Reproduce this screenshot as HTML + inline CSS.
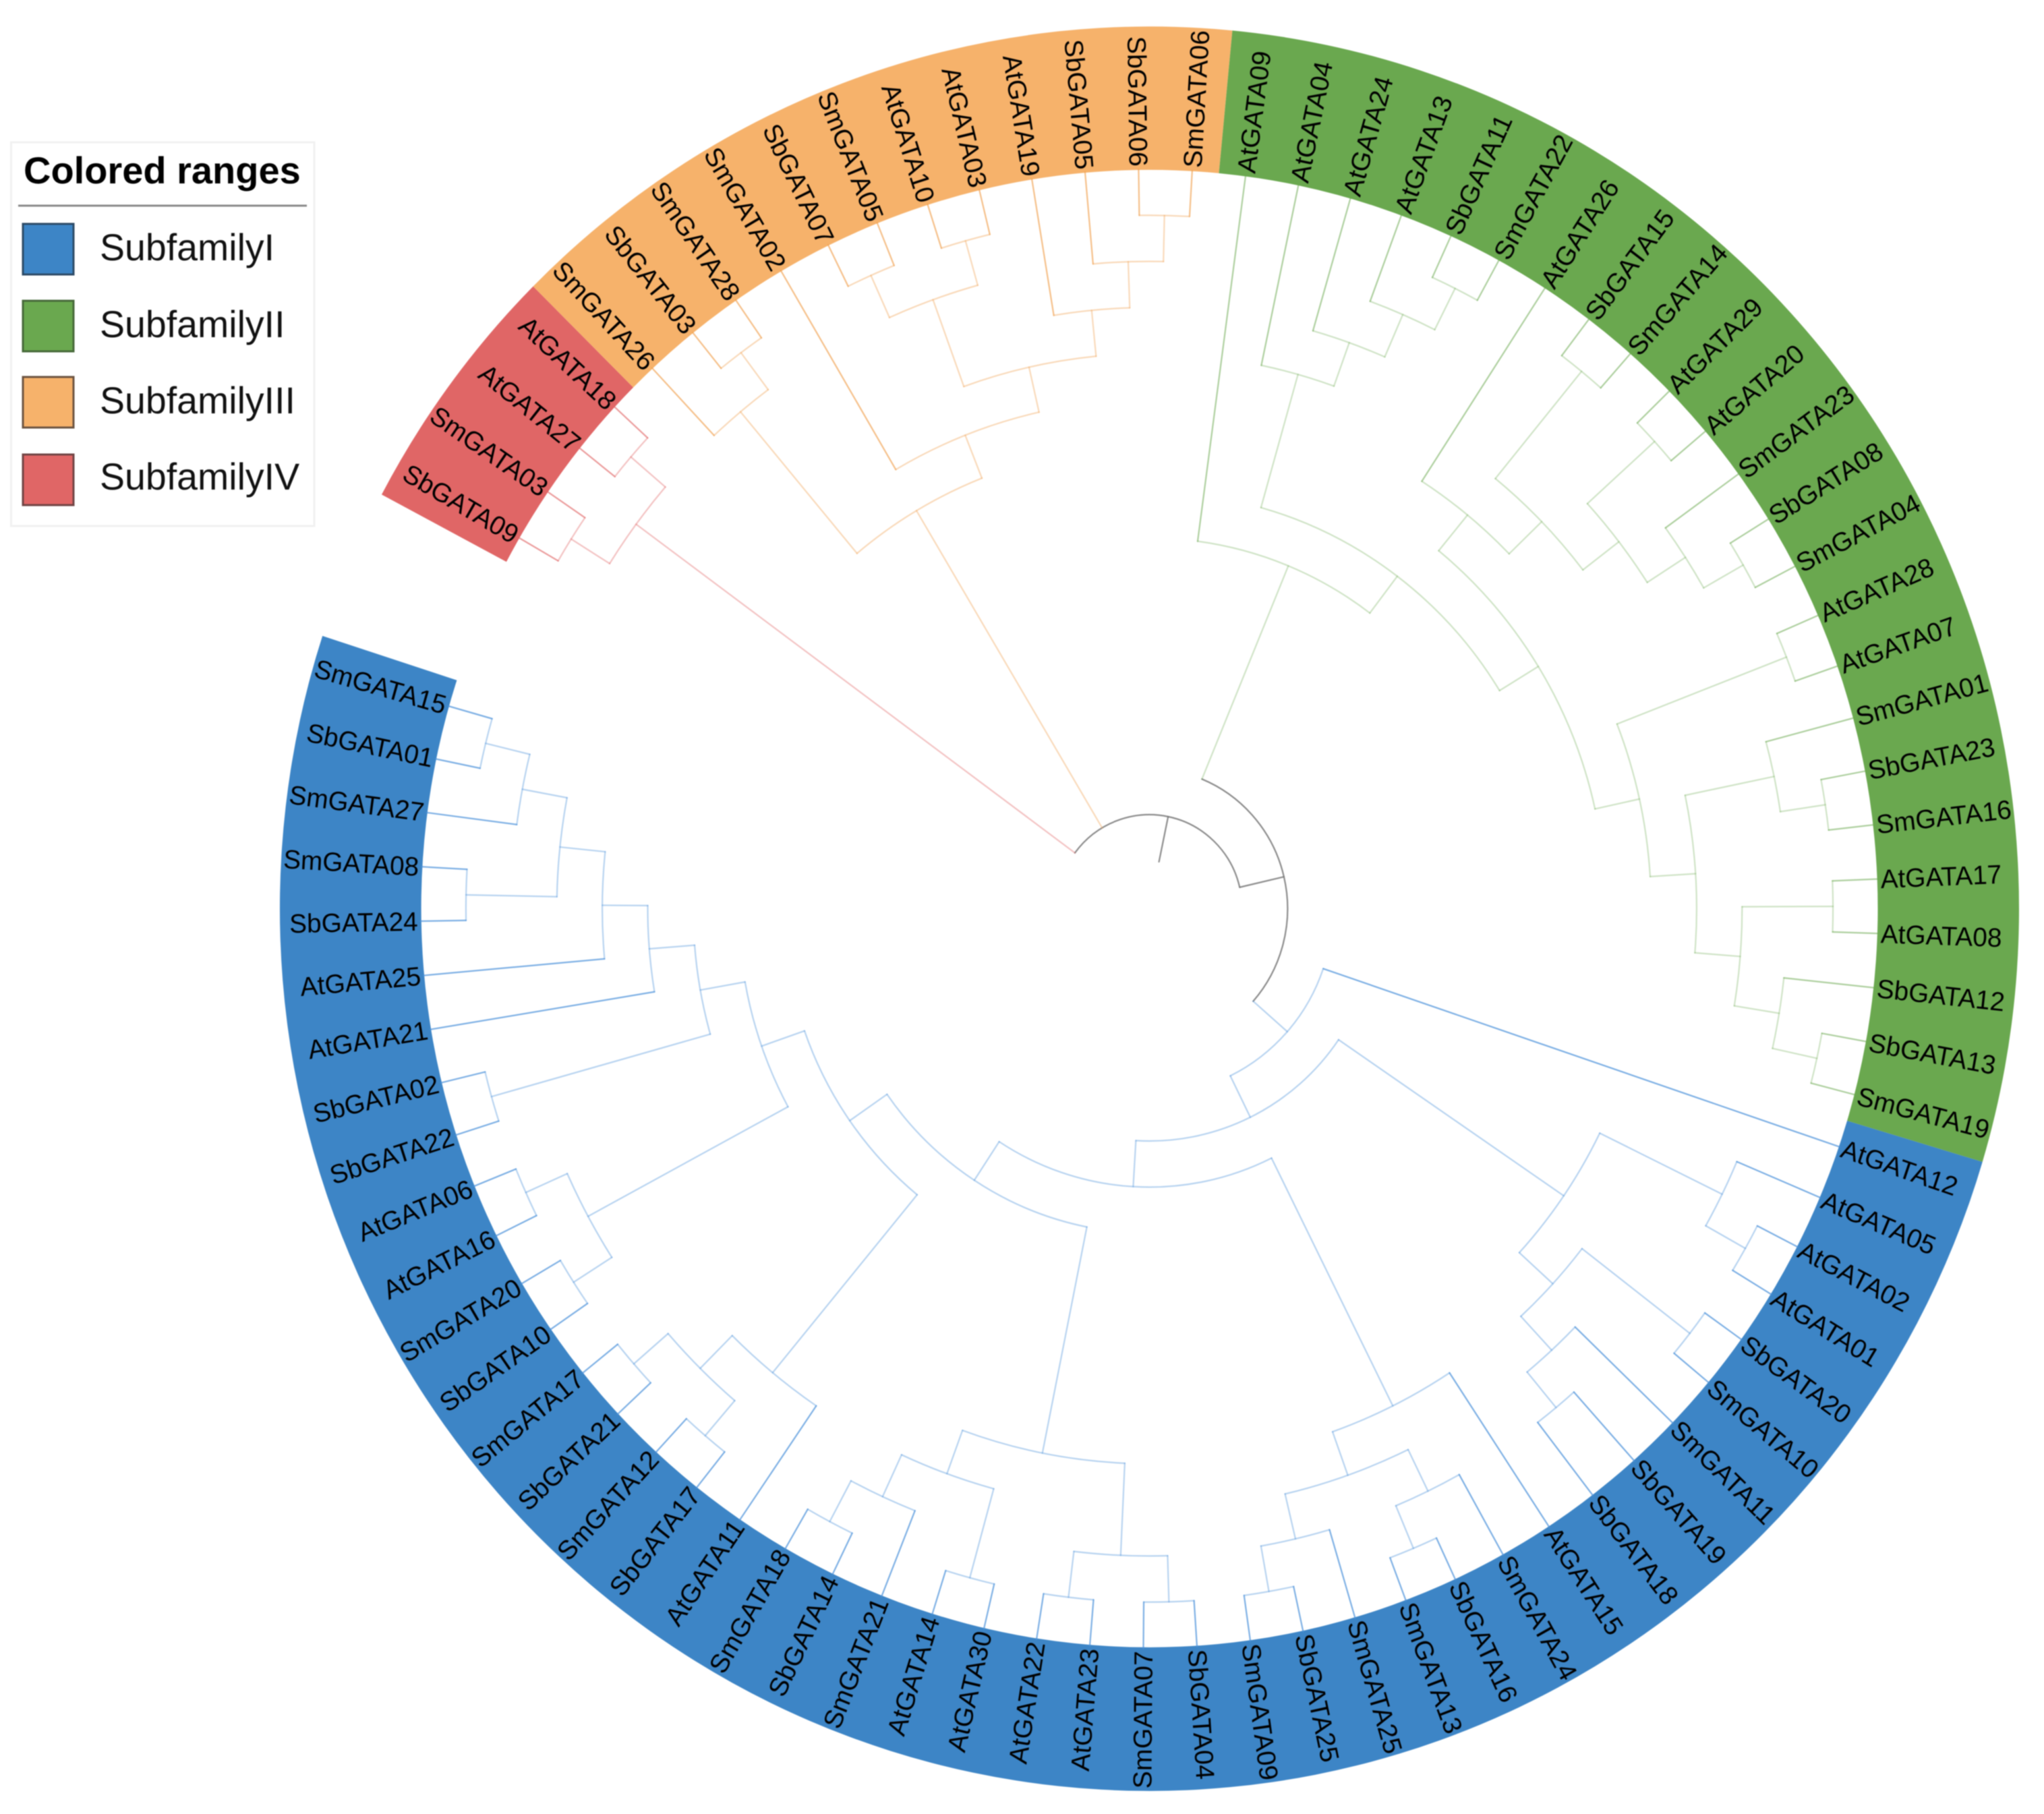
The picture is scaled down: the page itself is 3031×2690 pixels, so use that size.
<!DOCTYPE html>
<html lang="en">
<head>
<meta charset="utf-8">
<title>GATA family circular phylogenetic tree</title>
<style>
  html, body { margin: 0; padding: 0; background: #fff; }
  body { width: 3031px; height: 2690px; overflow: hidden; }
  svg { display: block; font-family: "Liberation Sans", Arial, sans-serif; filter: blur(0.8px); }
  .leaf-text { font-size: 38.8px; fill: #000; }
  .legend-title { font-size: 56px; font-weight: bold; fill: #000; }
  .legend-text { font-size: 55.5px; fill: #111; }
</style>
</head>
<body>
<svg id="chart" xmlns="http://www.w3.org/2000/svg" width="3031" height="2690" viewBox="0 0 3031 2690">
  <rect x="0" y="0" width="3031" height="2690" fill="#ffffff"/>
  <g id="plot" transform="translate(1704.5,1347.5) scale(1,1.0145)">
    <g id="ranges"></g>
    <g id="branches" fill="none" stroke-width="2.2" stroke-linejoin="round" stroke-linecap="round"></g>
    <g id="labels"></g>
  </g>
  <g>
    <rect x="16.5" y="211" width="449.5" height="569" fill="#ffffff" stroke="#f1f1f1" stroke-width="3"/>
    <text class="legend-title" x="35" y="272">Colored ranges</text>
    <line x1="27" y1="305" x2="455" y2="305" stroke="#888888" stroke-width="3"/>
    <g>
      <rect x="34" y="332" width="75" height="75" fill="#3d85c6" stroke="#2c4a66" stroke-width="3"/>
      <text class="legend-text" x="148" y="386">SubfamilyI</text>
    </g>
    <g>
      <rect x="34" y="446" width="75" height="75" fill="#6aa84f" stroke="#47693a" stroke-width="3"/>
      <text class="legend-text" x="148" y="500">SubfamilyII</text>
    </g>
    <g>
      <rect x="34" y="559" width="75" height="75" fill="#f6b26b" stroke="#6b5340" stroke-width="3"/>
      <text class="legend-text" x="148" y="613">SubfamilyIII</text>
    </g>
    <g>
      <rect x="34" y="674" width="75" height="75" fill="#e06666" stroke="#704444" stroke-width="3"/>
      <text class="legend-text" x="148" y="726">SubfamilyIV</text>
    </g>
  </g>
</svg>
<script>
// Tree data: each internal node is [level, child, child, ...]; a leaf is its gene name.
// Level is the node's rank counted back from the tips.
const cladeIV = [2, [1, 'SbGATA09', 'SmGATA03'], [1, 'AtGATA27', 'AtGATA18']];

const cladeIII = [6,
  [2, 'SmGATA26', [1, 'SbGATA03', 'SmGATA28']],
  [5, 'SmGATA02',
    [4,
      [2, [1, 'SbGATA07', 'SmGATA05'], [1, 'AtGATA10', 'AtGATA03']],
      [3, 'AtGATA19', [2, 'SbGATA05', [1, 'SbGATA06', 'SmGATA06']]]
    ]
  ]
];

const cladeII = [8, 'AtGATA09',
  [7,
    [4, 'AtGATA04', [3, 'AtGATA24', [2, 'AtGATA13', [1, 'SbGATA11', 'SmGATA22']]]],
    [6,
      [5, 'AtGATA26',
        [4,
          [1, 'SbGATA15', 'SmGATA14'],
          [3, [1, 'AtGATA29', 'AtGATA20'], [2, 'SmGATA23', [1, 'SbGATA08', 'SmGATA04']]]
        ]
      ],
      [5,
        [1, 'AtGATA28', 'AtGATA07'],
        [4,
          [2, 'SmGATA01', [1, 'SbGATA23', 'SmGATA16']],
          [3, [1, 'AtGATA17', 'AtGATA08'], [2, 'SbGATA12', [1, 'SbGATA13', 'SmGATA19']]]
        ]
      ]
    ]
  ]
];

const cladeI = [12, 'AtGATA12',
  [11,
    [5,
      [2, 'AtGATA05', [1, 'AtGATA02', 'AtGATA01']],
      [4, [1, 'SbGATA20', 'SmGATA10'], [3, 'SmGATA11', [2, 'SbGATA19', 'SbGATA18']]]
    ],
    [10,
      [4, 'AtGATA15',
        [3,
          [2, 'SmGATA24', [1, 'SbGATA16', 'SmGATA13']],
          [2, 'SmGATA25', [1, 'SbGATA25', 'SmGATA09']]
        ]
      ],
      [9,
        [4,
          [2, [1, 'SbGATA04', 'SmGATA07'], [1, 'AtGATA23', 'AtGATA22']],
          [3, [1, 'AtGATA30', 'AtGATA14'], [2, 'SmGATA21', [1, 'SbGATA14', 'SmGATA18']]]
        ],
        [8,
          [3, 'AtGATA11', [2, [1, 'SbGATA17', 'SmGATA12'], [1, 'SbGATA21', 'SmGATA17']]],
          [7,
            [2, [1, 'SbGATA10', 'SmGATA20'], [1, 'AtGATA16', 'AtGATA06']],
            [6,
              [1, 'SbGATA22', 'SbGATA02'],
              [5, 'AtGATA21',
                [4, 'AtGATA25',
                  [3, [1, 'SbGATA24', 'SmGATA08'], [2, 'SmGATA27', [1, 'SbGATA01', 'SmGATA15']]]
                ]
              ]
            ]
          ]
        ]
      ]
    ]
  ]
];

const rootLevels = [15, 14, 13];
const subfamilyOrder = ['SubfamilyIV', 'SubfamilyIII', 'SubfamilyII', 'SubfamilyI'];
const subfamilyClades = [cladeIV, cladeIII, cladeII, cladeI];

// Presentation settings, kept apart from the data above.
const palette = { SubfamilyI: '#3d85c6', SubfamilyII: '#6aa84f', SubfamilyIII: '#f6b26b', SubfamilyIV: '#e06666', root: '#777777' };
const branchPalette = { SubfamilyI: '#4a90d9', SubfamilyII: '#6aa84f', SubfamilyIII: '#f0a050', SubfamilyIV: '#e06666' };
const leafOpacity = { SubfamilyI: 0.72, SubfamilyII: 0.55, SubfamilyIII: 0.68, SubfamilyIV: 0.65 };
const innerOpacity = { SubfamilyI: 0.4, SubfamilyII: 0.32, SubfamilyIII: 0.4, SubfamilyIV: 0.4 };
const SVG_NS = 'http://www.w3.org/2000/svg';
const START_ANGLE = 208;
const LEAF_STEP = 4.217;
const RING_OUTER = 1289.5;
const RING_INNER = 1080;
const LABEL_RADIUS = 1085;

// Axis functions.
function radiusScale(level) { return 1081 - 67.4 * level; }
function angleScale(slot) { return START_ANGLE + LEAF_STEP * slot; }
function polar(radius, angle) {
  const t = angle * Math.PI / 180;
  return [radius * Math.cos(t), radius * Math.sin(t)];
}
function fmt(v) { return v.toFixed(2); }

const rangesLayer = document.getElementById('ranges');
const branchLayer = document.getElementById('branches');
const labelLayer = document.getElementById('labels');

let nextSlot = 0;

function layout(node, family) {
  if (typeof node === 'string') {
    const slot = nextSlot;
    nextSlot += 1;
    return { name: node, level: 0, angle: angleScale(slot + 0.5), family: family, kids: [] };
  }
  const kids = node.slice(1).map(function (child) { return layout(child, family); });
  const angle = (kids[0].angle + kids[kids.length - 1].angle) / 2;
  return { level: node[0], angle: angle, family: family, kids: kids };
}

function drawRadial(angle, levelFrom, levelTo, color, opacity) {
  const a = polar(radiusScale(levelFrom), angle);
  const b = polar(radiusScale(levelTo), angle);
  const el = document.createElementNS(SVG_NS, 'line');
  
  
  el.setAttribute('x1', fmt(a[0]));
  el.setAttribute('y1', fmt(a[1]));
  el.setAttribute('x2', fmt(b[0]));
  el.setAttribute('y2', fmt(b[1]));
  el.setAttribute('stroke', color);
  el.setAttribute('stroke-opacity', opacity);
  branchLayer.appendChild(el);
}

function drawArc(level, angleFrom, angleTo, color, opacity) {
  const r = radiusScale(level);
  const a = polar(r, angleFrom);
  const b = polar(r, angleTo);
  const large = angleTo - angleFrom > 180 ? 1 : 0;
  const el = document.createElementNS(SVG_NS, 'path');
  
  
  el.setAttribute('d', 'M' + fmt(a[0]) + ' ' + fmt(a[1]) + 'A' + fmt(r) + ' ' + fmt(r) + ' 0 ' + large + ' 1 ' + fmt(b[0]) + ' ' + fmt(b[1]));
  el.setAttribute('stroke', color);
  el.setAttribute('stroke-opacity', opacity);
  branchLayer.appendChild(el);
}

function drawLabel(leaf) {
  const norm = ((leaf.angle % 360) + 360) % 360;
  const flip = norm > 90 && norm < 270;
  const el = document.createElementNS(SVG_NS, 'text');
  
  
  el.setAttribute('class', 'leaf-text');
  el.setAttribute('dy', '0.35em');
  el.setAttribute('text-anchor', flip ? 'end' : 'start');
  el.setAttribute('transform', 'rotate(' + fmt(norm) + ') translate(' + LABEL_RADIUS + ',0)' + (flip ? ' rotate(180)' : ''));
  el.textContent = leaf.name;
  labelLayer.appendChild(el);
}

function drawSubtree(node) {
  const color = branchPalette[node.family];
  node.kids.forEach(function (kid) {
    const isLeaf = kid.kids.length === 0;
    drawRadial(kid.angle, node.level, kid.level, color, isLeaf ? leafOpacity[node.family] : innerOpacity[node.family]);
    if (isLeaf) {
      drawLabel(kid);
    } else {
      drawSubtree(kid);
    }
  });
  drawArc(node.level, node.kids[0].angle, node.kids[node.kids.length - 1].angle, color, innerOpacity[node.family]);
}

function drawRange(family, slotStart, slotEnd) {
  const a0 = angleScale(slotStart);
  const a1 = angleScale(slotEnd);
  const p0 = polar(RING_INNER, a0);
  const p1 = polar(RING_OUTER, a0);
  const p2 = polar(RING_OUTER, a1);
  const p3 = polar(RING_INNER, a1);
  const large = a1 - a0 > 180 ? 1 : 0;
  const el = document.createElementNS(SVG_NS, 'path');
  
  
  el.setAttribute('fill', palette[family]);
  el.setAttribute('d',
    'M' + fmt(p0[0]) + ' ' + fmt(p0[1]) +
    'L' + fmt(p1[0]) + ' ' + fmt(p1[1]) +
    'A' + RING_OUTER + ' ' + RING_OUTER + ' 0 ' + large + ' 1 ' + fmt(p2[0]) + ' ' + fmt(p2[1]) +
    'L' + fmt(p3[0]) + ' ' + fmt(p3[1]) +
    'A' + RING_INNER + ' ' + RING_INNER + ' 0 ' + large + ' 0 ' + fmt(p0[0]) + ' ' + fmt(p0[1]) + 'Z');
  rangesLayer.appendChild(el);
}

// Lay out the clades clockwise, drawing a coloured range for each.
const laidOut = subfamilyClades.map(function (clade, i) {
  const first = nextSlot;
  const node = layout(clade, subfamilyOrder[i]);
  drawRange(subfamilyOrder[i], first, nextSlot);
  return node;
});

// Root structure: stub -> root arc (IV, III, inner) -> inner arc (II, I).
const innerAngle = (laidOut[2].angle + laidOut[3].angle) / 2;
const rootAngle = (laidOut[0].angle + innerAngle) / 2;

drawRadial(rootAngle, rootLevels[0], rootLevels[1], palette.root, 0.85);
drawArc(rootLevels[1], laidOut[0].angle, innerAngle, palette.root, 0.85);
drawRadial(innerAngle, rootLevels[1], rootLevels[2], palette.root, 0.85);
drawArc(rootLevels[2], laidOut[2].angle, laidOut[3].angle, palette.root, 0.85);

drawRadial(laidOut[0].angle, rootLevels[1], laidOut[0].level, branchPalette.SubfamilyIV, innerOpacity.SubfamilyIV);
drawRadial(laidOut[1].angle, rootLevels[1], laidOut[1].level, branchPalette.SubfamilyIII, innerOpacity.SubfamilyIII);
drawRadial(laidOut[2].angle, rootLevels[2], laidOut[2].level, branchPalette.SubfamilyII, innerOpacity.SubfamilyII);
drawRadial(laidOut[3].angle, rootLevels[2], laidOut[3].level, branchPalette.SubfamilyI, innerOpacity.SubfamilyI);

drawSubtree(laidOut[0]);
drawSubtree(laidOut[1]);
drawSubtree(laidOut[2]);
drawSubtree(laidOut[3]);
</script>
</body>
</html>
